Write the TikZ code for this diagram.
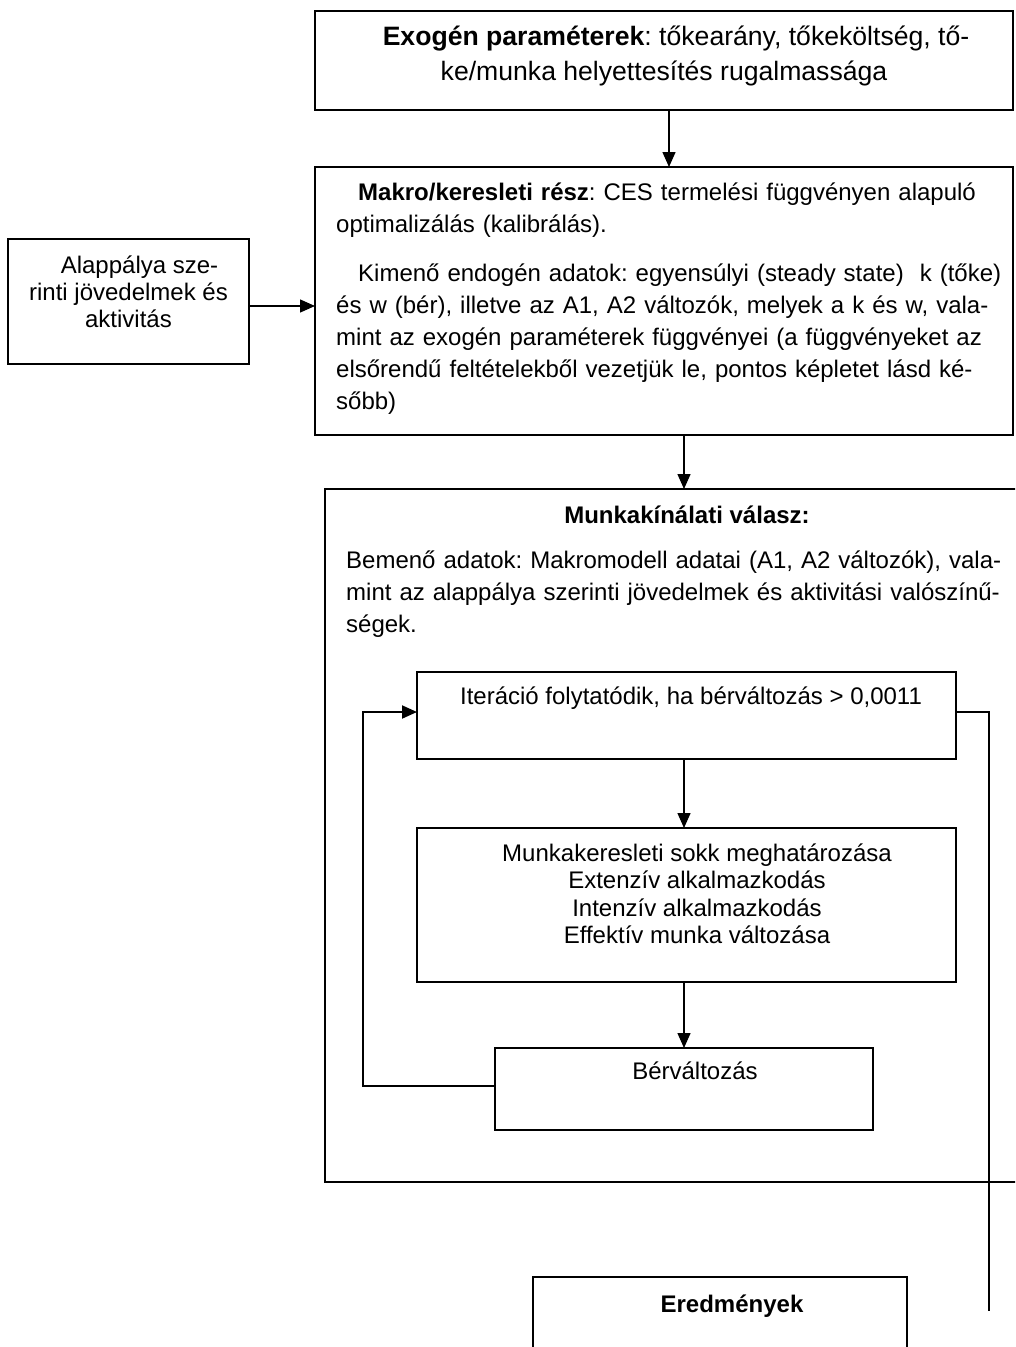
\documentclass[tikz,border=0pt]{standalone}
\usepackage{fontspec}
\setmainfont{Liberation Sans}
\usetikzlibrary{arrows.meta,calc}
\frenchspacing
\newcommand{\jsor}[1]{\hbox to \hsize{#1}\par}

\tikzset{
  doboz/.style={draw, rectangle, line width=1.6pt, anchor=north west, inner sep=0pt, outer sep=0pt},
  szoveg/.style={inner sep=0pt, font=\fontsize{24}{32}\selectfont},
  szimpla/.style={szoveg, align=center, font=\fontsize{24}{27.5}\selectfont},
  nyil/.style={-{Triangle[length=15pt,width=13pt]}, line width=1.4pt},
}

\begin{document}
\begin{tikzpicture}[x=1pt,y=-1pt]
\useasboundingbox (0,0) rectangle (1015,1347);
\clip (0,0) rectangle (1015,1347);
% dobozok
\node[doboz, minimum width=698pt, minimum height=99pt] (exo) at (315,11) {};
\node[doboz, minimum width=698pt, minimum height=268pt] (makro) at (315,167) {};
\node[doboz, minimum width=241pt, minimum height=125pt] (alap) at (8,239) {};
\node[doboz, minimum width=718pt, minimum height=693pt] (munkak) at (325,489) {};
\node[doboz, line width=1.4pt, minimum width=539pt, minimum height=87pt] (iter) at (417,672) {};
\node[doboz, line width=1.4pt, minimum width=539pt, minimum height=154pt] (munka) at (417,828) {};
\node[doboz, line width=1.4pt, minimum width=378pt, minimum height=82pt] (ber) at (495,1048) {};
\node[doboz, line width=1.4pt, minimum width=374pt, minimum height=130pt] (eredm) at (533,1277) {};
\coordinate (kimenet) at (989,1311);
% szovegek (az align=center csomopontok base-e az utolso sor)
\node[szoveg, align=center, anchor=base, font=\fontsize{26.6}{35}\selectfont] (exotxt) at (664,80)
  {\hspace*{24pt}\textbf{Exogén paraméterek}: tőkearány, tőkeköltség, tő-\\ke/munka helyettesítés rugalmassága};
\node[szoveg, text width=655pt, anchor=base west] (makrotxt) at (336,200)
  {\jsor{\hspace*{22pt}\textbf{Makro/keresleti rész}: CES termelési függvényen alapuló}
   optimalizálás (kalibrálás).\par\vspace{17pt}
   \jsor{\hspace*{22pt}Kimenő endogén adatok: egyensúlyi (steady state)\ \ k (tőke)}
   \jsor{és w (bér), illetve az A1, A2 változók, melyek a k és w, vala-}
   \jsor{mint az exogén paraméterek függvényei (a függvényeket az}
   \jsor{elsőrendű feltételekből vezetjük le, pontos képletet lásd ké-}
   sőbb)};
\node[szimpla, anchor=base, font=\fontsize{24}{27}\selectfont] (alaptxt) at (128.5,327)
  {\hspace*{22pt}Alappálya sze-\\rinti jövedelmek és\\aktivitás};
\node[szoveg, anchor=base] (munkakcim) at (687,523) {\textbf{Munkakínálati válasz:}};
\node[szoveg, text width=652pt, anchor=base west] (bemeno) at (346,568)
  {\jsor{Bemenő adatok: Makromodell adatai (A1, A2 változók), vala-}
   \jsor{mint az alappálya szerinti jövedelmek és aktivitási valószínű-}
   ségek.};
\node[szoveg, anchor=base] (itertxt) at (691,704) {Iteráció folytatódik, ha bérváltozás > 0,0011};
\node[szimpla, anchor=base] (munkatxt) at (697,943.5)
  {Munkakeresleti sokk meghatározása\\Extenzív alkalmazkodás\\Intenzív alkalmazkodás\\Effektív munka változása};
\node[szoveg, anchor=base] (bertxt) at (695,1079) {Bérváltozás};
\node[szoveg, anchor=base] (eredmtxt) at (732,1312) {\textbf{Eredmények}};
% nyilak
\draw[nyil] ([xshift=5pt]exo.south) -- ([xshift=5pt]makro.north);
\draw[nyil] ([yshift=-4.5pt]alap.east) -- ([yshift=-4.5pt]alap.east -| makro.west);
\draw[nyil] (makro.south -| munkak.north) -- (munkak.north);
\draw[nyil] (iter.south -| ber.north) -- (munka.north -| ber.north);
\draw[nyil] (munka.south -| ber.north) -- (ber.north);
\draw[nyil, line width=2pt] ([yshift=3pt]ber.west) -- ++(-132,0) |- ([yshift=3.5pt]iter.west);
\draw[line width=2.7pt] ([yshift=3.5pt]iter.east) -| (kimenet);
\end{tikzpicture}
\end{document}
